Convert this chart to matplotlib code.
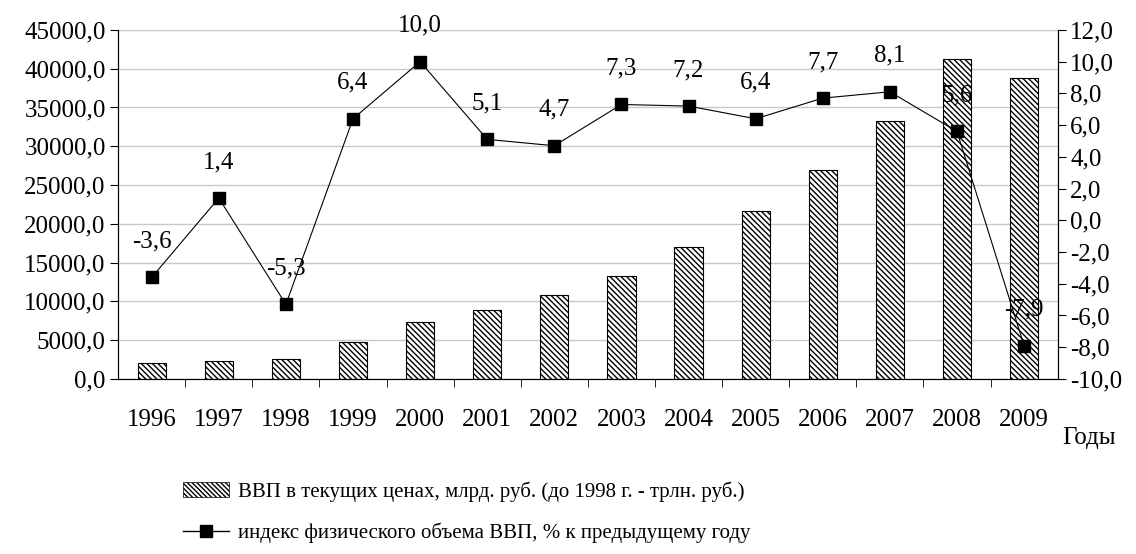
import matplotlib.pyplot as plt
from matplotlib.ticker import FuncFormatter, MultipleLocator
from matplotlib.patches import Patch
from matplotlib.lines import Line2D

plt.rcParams['font.family'] = ['Liberation Serif', 'DejaVu Serif']
plt.rcParams['hatch.linewidth'] = 1.0

years = ['1996', '1997', '1998', '1999', '2000', '2001', '2002',
         '2003', '2004', '2005', '2006', '2007', '2008', '2009']
gdp = [2007.8, 2342.5, 2629.6, 4823.0, 7305.6, 8943.6, 10830.5,
       13208.2, 17027.2, 21609.8, 26917.2, 33247.5, 41276.8, 38807.2]
growth = [-3.6, 1.4, -5.3, 6.4, 10.0, 5.1, 4.7, 7.3, 7.2, 6.4, 7.7, 8.1, 5.6, -7.9]

bar_label = 'ВВП в текущих ценах, млрд. руб. (до 1998 г. - трлн. руб.)'
line_label = 'индекс физического объема ВВП, % к предыдущему году'

comma = lambda v, p: f'{v:.1f}'.replace('.', ',')

fig = plt.figure(figsize=(11.36, 5.54), dpi=100)
ax = fig.add_axes([0.104, 0.316, 0.827, 0.63])
ax2 = ax.twinx()

x = range(len(years))
ax.bar(x, gdp, width=0.42, color='white', edgecolor='black', hatch='\\\\\\\\\\\\',
       linewidth=0.8, zorder=2)
ax.set_ylim(0, 45000)
ax.set_xlim(-0.5, len(years) - 0.5)
ax.yaxis.set_major_locator(MultipleLocator(5000))
ax.yaxis.set_major_formatter(FuncFormatter(comma))
ax.grid(axis='y', color='#c8c8c8', linewidth=1, zorder=0)
ax.set_axisbelow(True)
ax.set_xticks(list(x))
ax.set_xticklabels(years)
ax.set_xticks([i + 0.5 for i in range(len(years) - 1)], minor=True)
ax.tick_params(axis='x', which='major', length=0, pad=22, labelsize=18)
ax.tick_params(axis='x', which='minor', length=6, direction='out')
ax.tick_params(axis='y', labelsize=18, length=6, direction='out', pad=3)

ax2.plot(x, growth, color='black', linewidth=0.8, marker='s', markersize=9, zorder=3)
ax2.set_ylim(-10, 12)
ax2.yaxis.set_major_locator(MultipleLocator(2))
ax2.yaxis.set_major_formatter(FuncFormatter(comma))
ax2.tick_params(axis='y', labelsize=18, length=6, direction='out', pad=3)
for i, v in enumerate(growth):
    ax2.annotate(comma(v, None), (i, v), xytext=(0, 18), textcoords='offset points',
                 ha='center', va='bottom', fontsize=18)

for a in (ax, ax2):
    a.spines['top'].set_visible(False)

ax.text(1.005, -0.17, 'Годы', transform=ax.transAxes, fontsize=18, ha='left', va='center')

handles = [Patch(facecolor='white', edgecolor='black', hatch='\\\\\\\\\\\\\\', linewidth=0.5),
           Line2D([], [], color='black', marker='s', markersize=8, linewidth=1)]
fig.legend(handles, [bar_label, line_label], loc='upper left', bbox_to_anchor=(0.145, 0.165),
           frameon=False, fontsize=15, handlelength=2.2, handletextpad=0.4, labelspacing=1.0,
           bbox_transform=fig.transFigure)

fig.savefig('out.png', dpi=100)
